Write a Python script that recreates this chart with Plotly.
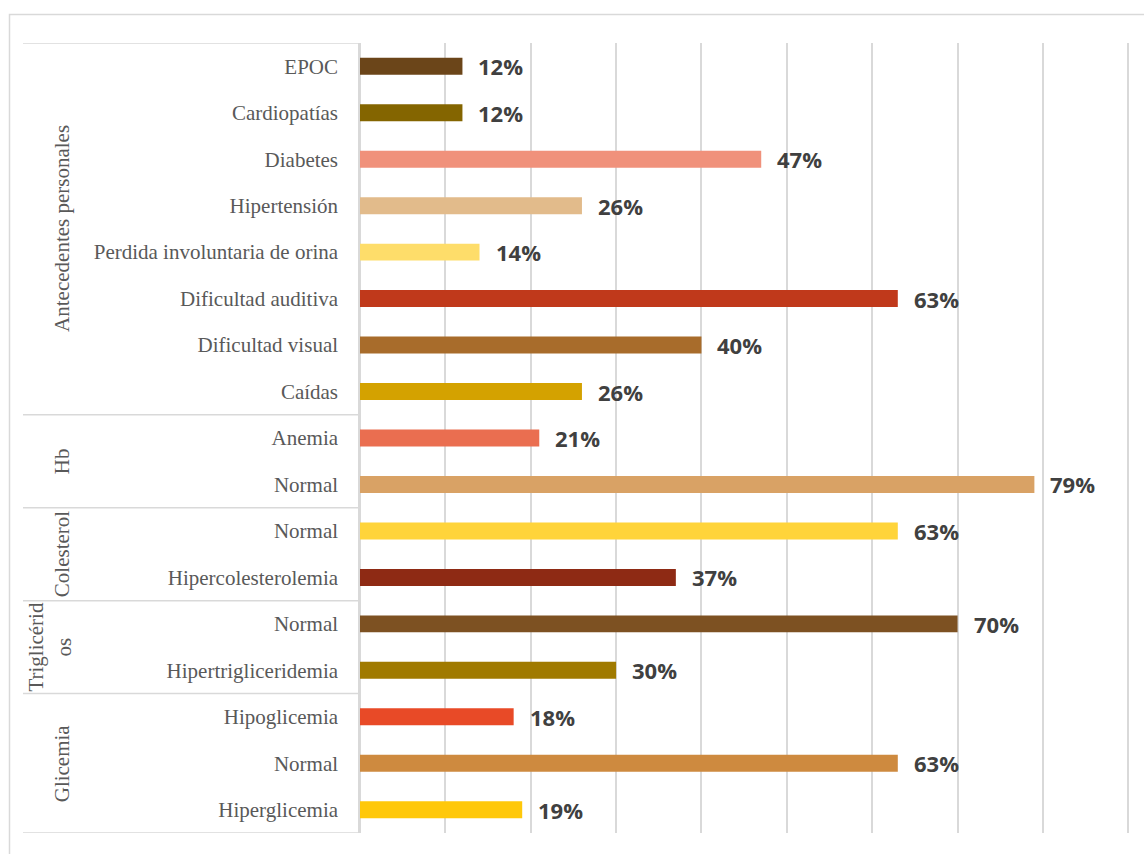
import plotly.graph_objects as go

# Data (bottom to top)
categories = ["Hiperglicemia", "Normal", "Hipoglicemia",
              "Hipertrigliceridemia", "Normal",
              "Hipercolesterolemia", "Normal",
              "Normal", "Anemia",
              "Caídas", "Dificultad visual", "Dificultad auditiva",
              "Perdida involuntaria de orina", "Hipertensión", "Diabetes",
              "Cardiopatías", "EPOC"]
values = [19, 63, 18, 30, 70, 37, 63, 79, 21, 26, 40, 63, 14, 26, 47, 12, 12]
colors = ["#FFC80A", "#CE8A3F", "#E84A27",
          "#A07A00", "#7D5122",
          "#8E2A14", "#FFD43A",
          "#D9A265", "#EA6E50",
          "#D4A200", "#A86C2B", "#C0391B",
          "#FEDD6A", "#E2BB8B", "#F0917B",
          "#846500", "#6B4519"]
group_names = ["Glicemia", "Triglicérid<br>os", "Colesterol", "Hb", "Antecedentes personales"]
group_sizes = [3, 2, 2, 2, 8]

W, H = 1144, 854
PL, PR, PT, PB = 360, 1130, 43, 833
XMAX = 90.2


def px_x(p):
    return (p - PL) / (PR - PL)


def px_y(p):
    return (PB - p) / (PB - PT)


idx = list(range(len(categories)))

fig = go.Figure()
fig.add_trace(go.Bar(
    x=values, y=idx, orientation="h", marker=dict(color=colors, line=dict(width=0)),
    width=0.365, hoverinfo="x+y", showlegend=False,
))

grid = "#D9D9D9"
shapes = []
annotations = []

# outer chart border
shapes.append(dict(type="rect", xref="paper", yref="paper",
                   x0=px_x(9.5), x1=px_x(1160), y0=px_y(14.5), y1=px_y(870),
                   line=dict(color="#D9D9D9", width=1.5), layer="below"))

# group separators and labels
start = 0
seps = [-0.5]
for name, n in zip(group_names, group_sizes):
    end = start + n
    seps.append(end - 0.5)
    center = (start + end - 1) / 2
    xc = 49.5 if "<br>" in name else 62
    annotations.append(dict(
        x=px_x(xc), y=center, xref="paper", yref="y", text=name, textangle=-90,
        showarrow=False, xanchor="center", yanchor="middle", align="center",
        font=dict(family="Liberation Serif", size=21, color="#595959"),
    ))
    start = end
for s in seps:
    shapes.append(dict(type="line", xref="paper", yref="y",
                       x0=px_x(23), x1=px_x(359), y0=s, y1=s,
                       line=dict(color=grid, width=1.5)))

# value labels
for i, v in zip(idx, values):
    annotations.append(dict(
        x=v, y=i, xref="x", yref="y", text=f"{v}%", showarrow=False,
        xanchor="left", yanchor="middle", xshift=14,
        font=dict(family="Open Sans", size=22, color="#404040", weight="bold"),
    ))

fig.update_layout(
    width=W, height=H,
    margin=dict(l=PL, r=W - PR, t=PT, b=H - PB, pad=0),
    paper_bgcolor="white", plot_bgcolor="white",
    shapes=shapes, annotations=annotations,
    bargap=0.5,
    xaxis=dict(range=[0, XMAX], dtick=10, showgrid=True, gridcolor=grid, gridwidth=1.5,
               zeroline=True, zerolinecolor=grid, zerolinewidth=1.5,
               showticklabels=False, ticks="", showline=False, fixedrange=True),
    yaxis=dict(range=[-0.5, len(categories) - 0.5], tickvals=idx, ticktext=categories,
               showgrid=False, zeroline=False, showline=True, linecolor=grid, linewidth=1.5,
               ticks="", ticklabelstandoff=16,
               tickfont=dict(family="Liberation Serif", size=21, color="#595959"),
               fixedrange=True),
)

fig.write_html("out.html", config={"displayModeBar": False},
               post_script="document.body.style.margin='0';")
